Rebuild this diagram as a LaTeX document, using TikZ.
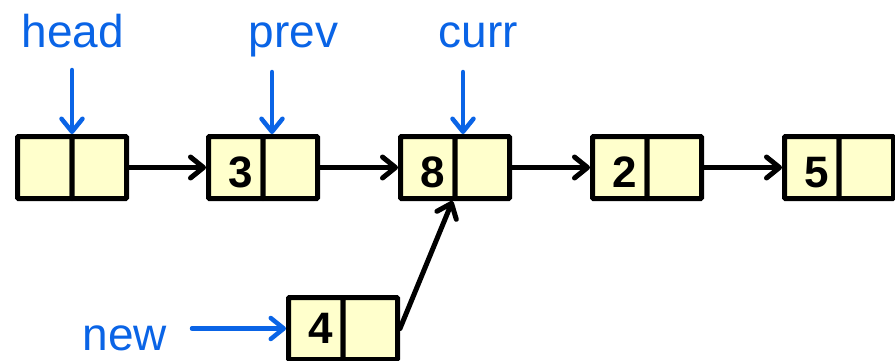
\documentclass[tikz,border=0pt]{standalone}
\usepackage{fontspec}
\setmainfont{Liberation Sans}
\usetikzlibrary{arrows.meta}
\definecolor{cellfill}{HTML}{FFFFCC}
\definecolor{ptrblue}{HTML}{0A64E6}
\begin{document}
\begin{tikzpicture}[x=1pt,y=-1pt,
  cell/.style={draw=black, fill=cellfill, line width=5pt, rounded corners=1pt,
    minimum width=54.5pt, minimum height=62pt, inner sep=0pt},
  datacell/.style={cell, font=\bfseries\fontsize{44}{44}\selectfont,
    execute at begin node=\hspace*{9pt}},
  rowcell/.style={datacell, text height=39pt, text depth=0pt},
  link/.style={draw=black, line width=5pt, line cap=round,
    -{Straight Barb[length=13pt, width=21pt, line join=round, line cap=round]}},
  ptr/.style={draw=ptrblue, line width=4.5pt, line cap=round,
    -{Straight Barb[length=13pt, width=21pt, line join=round, line cap=round]}},
  ptrlabel/.style={text=ptrblue, font=\fontsize{46}{46}\selectfont, anchor=base, inner sep=0pt}
]
\useasboundingbox (0,0) rectangle (895,360);

% main row (left outer edges 15, 206, 398, 590, 782)
\node[cell]          (n1d) at (44.75,167.5) {};
\node[cell]          (n1p) at (99.25,167.5) {};
\node[rowcell]       (n2d) at (235.75,167.5) {3};
\node[cell]          (n2p) at (290.25,167.5) {};
\node[rowcell]       (n3d) at (427.75,167.5) {8};
\node[cell]          (n3p) at (482.25,167.5) {};
\node[rowcell]       (n4d) at (619.75,167.5) {2};
\node[cell]          (n4p) at (674.25,167.5) {};
\node[rowcell]       (n5d) at (811.75,167.5) {5};
\node[cell]          (n5p) at (866.25,167.5) {};

% new node
\node[datacell]      (newd) at (315.75,328.5) {4};
\node[cell]          (newp) at (370.25,328.5) {};

% links
\draw[link] (n1p.east) -- (n2d.west);
\draw[link] (n2p.east) -- (n3d.west);
\draw[link] (n3p.east) -- (n4d.west);
\draw[link] (n4p.east) -- (n5d.west);
\draw[link] (newp.east) -- (n3p.south west);

% pointer labels
\node[ptrlabel] (head) at (73,47) {head};
\node[ptrlabel] (prev) at (293.5,47) {prev};
\node[ptrlabel] (curr) at (478.5,47) {curr};
\node[ptrlabel] (new)  at (125,350) {new};

\coordinate (ph) at (72,70);
\coordinate (pp) at (272,72);
\coordinate (pc) at (463,72);
\coordinate (pn) at (192,328.5);

\draw[ptr] (ph) -- (ph |- n1d.north);
\draw[ptr] (pp) -- (pp |- n2p.north);
\draw[ptr] (pc) -- (pc |- n3p.north);
\draw[ptr] (pn) -- (newd.west);
\end{tikzpicture}
\end{document}
